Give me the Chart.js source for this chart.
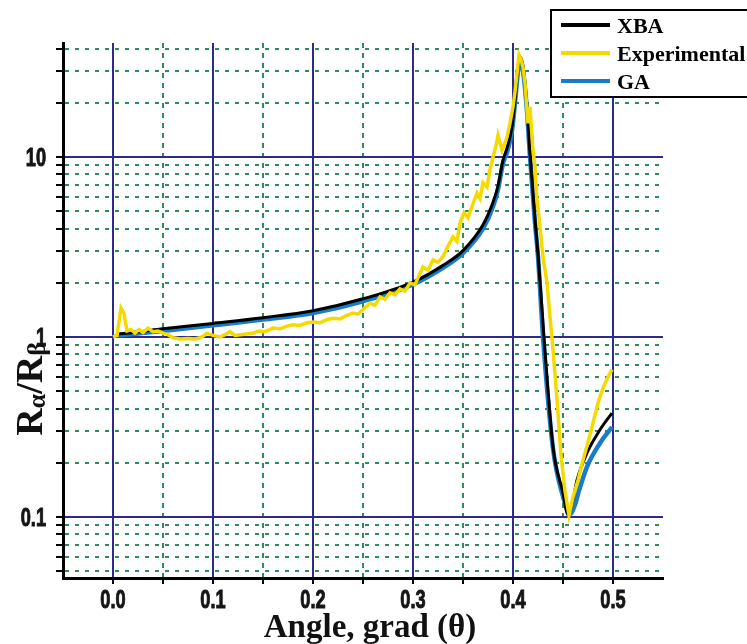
<!DOCTYPE html>
<html>
<head>
<meta charset="utf-8">
<script src="https://cdn.jsdelivr.net/npm/chart.js@4.4.0/dist/chart.umd.min.js"></script>
<style>
html,body{margin:0;padding:0;background:#ffffff;}
#wrap{width:747px;height:644px;position:relative;}
canvas{display:block;}
</style>
</head>
<body>
<div id="wrap"><canvas id="c" width="747" height="644"></canvas></div>
<script>
// ---------------- DATA ----------------
const seriesNames = ['XBA', 'Experimental', 'GA'];

const xTickValues = [0, 0.05, 0.1, 0.15, 0.2, 0.25, 0.3, 0.35, 0.4, 0.45, 0.5];
const xTickLabels = ['0.0', '', '0.1', '', '0.2', '', '0.3', '', '0.4', '', '0.5'];

const yTickValues = [0.05, 0.06, 0.07, 0.08, 0.09, 0.1, 0.2, 0.3, 0.4, 0.5, 0.6, 0.7, 0.8, 0.9,
                     1, 2, 3, 4, 5, 6, 7, 8, 9, 10, 20, 30, 40];
const yTickLabels = ['', '', '', '', '', '0.1', '', '', '', '', '', '', '', '',
                     '1', '', '', '', '', '', '', '', '', '10', '', '', ''];

const xbaAngle = [0.005, 0.02, 0.05, 0.1, 0.15, 0.2, 0.25, 0.3, 0.33, 0.35, 0.37, 0.38, 0.385, 0.39, 0.394,
                  0.399, 0.402, 0.405, 0.407, 0.41, 0.414, 0.417, 0.422, 0.425, 0.431, 0.44, 0.45, 0.455,
                  0.46, 0.464, 0.474, 0.487, 0.499];
const xbaRatio = [1.04, 1.06, 1.11, 1.19, 1.28, 1.40, 1.63, 2.02, 2.5, 3.02, 4.2, 5.6, 6.9, 9.6, 11.2,
                  14.7, 20.7, 31.6, 36, 32, 19, 10.5, 4.5, 2.9, 1.0, 0.245, 0.136, 0.103,
                  0.125, 0.16, 0.227, 0.305, 0.378];

const gaAngle = [0.005, 0.02, 0.05, 0.1, 0.15, 0.2, 0.25, 0.3, 0.33, 0.35, 0.37, 0.38, 0.385, 0.39, 0.394,
                 0.399, 0.402, 0.405, 0.407, 0.41, 0.414, 0.417, 0.422, 0.425, 0.43, 0.44, 0.45, 0.457,
                 0.462, 0.466, 0.474, 0.487, 0.499];
const gaRatio = [1.02, 1.04, 1.08, 1.16, 1.25, 1.36, 1.58, 1.96, 2.42, 2.92, 4.0, 5.3, 6.6, 9.2, 10.6,
                 14, 20, 30, 34, 30, 18, 10, 4.3, 2.8, 1.0, 0.24, 0.13, 0.104,
                 0.117, 0.14, 0.19, 0.257, 0.316];

const expAngle = [0.0, 0.004, 0.008, 0.011, 0.014, 0.018, 0.022, 0.026, 0.03, 0.035, 0.04, 0.045, 0.05, 0.055,
                  0.06, 0.067, 0.075, 0.082, 0.087, 0.091, 0.094, 0.1, 0.107, 0.112, 0.117, 0.122, 0.127,
                  0.133, 0.14, 0.146, 0.152, 0.16, 0.167, 0.174, 0.18, 0.187, 0.194, 0.2, 0.207, 0.214,
                  0.22, 0.227, 0.234, 0.24, 0.245, 0.25, 0.257, 0.262, 0.267, 0.272, 0.277, 0.282, 0.287,
                  0.292, 0.297, 0.302, 0.306, 0.31, 0.315, 0.32, 0.325, 0.33, 0.335, 0.34, 0.344, 0.347,
                  0.351, 0.355, 0.36, 0.364, 0.367, 0.37, 0.374, 0.377, 0.38, 0.383, 0.385, 0.389, 0.392,
                  0.394, 0.397, 0.4, 0.402, 0.404, 0.406, 0.408, 0.41, 0.412, 0.415, 0.417, 0.42, 0.422,
                  0.424, 0.427, 0.43, 0.434, 0.437, 0.44, 0.444, 0.448, 0.452, 0.456, 0.46, 0.465, 0.47,
                  0.475, 0.479, 0.485, 0.49, 0.495, 0.499];
const expRatio = [1.0, 1.02, 1.45, 1.35, 1.08, 1.1, 1.05, 1.1, 1.06, 1.12, 1.07, 1.08, 1.05, 1.03,
                  0.99, 0.975, 0.98, 0.975, 0.99, 1.02, 1.05, 1.02, 1.0, 1.03, 1.07, 1.02, 1.03,
                  1.04, 1.05, 1.08, 1.07, 1.12, 1.11, 1.15, 1.17, 1.16, 1.2, 1.21, 1.2, 1.25,
                  1.27, 1.26, 1.32, 1.36, 1.34, 1.42, 1.54, 1.5, 1.67, 1.62, 1.76, 1.72, 1.85,
                  1.8, 2.0, 1.95, 2.2, 2.45, 2.35, 2.68, 2.6, 2.8, 3.2, 3.6, 3.4, 4.3,
                  4.9, 4.6, 5.5, 6.3, 5.9, 7.2, 6.8, 8.5, 10, 11.5, 13.2, 10.9, 12,
                  12.9, 15.4, 19, 23, 29, 37, 35, 31.6, 25.8, 15.4, 19, 10.9, 8.8,
                  5.8, 4.1, 2.78, 2.0, 1.3, 0.85, 0.45, 0.22, 0.14, 0.102, 0.129, 0.16, 0.207,
                  0.26, 0.316, 0.43, 0.52, 0.6, 0.66];

const xTitle = 'Angle, grad (\u03B8)';

// ---------------- STYLE ----------------
const NAVY = '#2e2b88';
const GREEN = '#2f8c5c';
const sansBold = "bold 26px 'Liberation Sans','Arial',sans-serif";
const serif = "'Liberation Serif','Times New Roman',serif";
const SQUEEZE = 0.7;

function isMajorX(v) { return Math.abs(v * 10 - Math.round(v * 10)) < 1e-6; }
function isMajorY(v) { const l = Math.log10(v); return Math.abs(l - Math.round(l)) < 1e-6; }
function pts(xs, ys) { return xs.map((x, i) => ({x: x, y: ys[i]})); }

function narrowText(ctx, t, x, y) {
  ctx.save();
  ctx.translate(x, y);
  ctx.scale(SQUEEZE, 1);
  ctx.fillText(t, 0, 0);
  ctx.strokeText(t, 0, 0);
  ctx.restore();
}

// condensed tick labels, positioned through the chart's own scales
const tickLabelPlugin = {
  id: 'narrowTicks',
  afterDraw(chart) {
    const ctx = chart.ctx;
    const xs = chart.scales.x, ys = chart.scales.y;
    ctx.save();
    ctx.fillStyle = '#151515';
    ctx.strokeStyle = '#151515';
    ctx.lineWidth = 1;
    ctx.font = sansBold;
    ctx.textBaseline = 'alphabetic';
    xTickValues.forEach((v, i) => {
      const t = xTickLabels[i];
      if (!t) return;
      const px = xs.getPixelForValue(v);
      const w = ctx.measureText(t).width * SQUEEZE;
      narrowText(ctx, t, px - w / 2, xs.top + 30);
    });
    yTickValues.forEach((v, i) => {
      const t = yTickLabels[i];
      if (!t) return;
      const py = ys.getPixelForValue(v);
      const w = ctx.measureText(t).width * SQUEEZE;
      narrowText(ctx, t, ys.right - 17 - w, py + 9);
    });
    ctx.restore();
  }
};

const legendPlugin = {
  id: 'boxLegend',
  afterDraw(chart) {
    const ctx = chart.ctx;
    ctx.save();
    const left = 551, top = 10, bottom = 97;
    ctx.fillStyle = '#ffffff';
    ctx.fillRect(left, top, 220, bottom - top);
    ctx.strokeStyle = '#000';
    ctx.lineWidth = 2;
    ctx.strokeRect(left, top, 220, bottom - top);
    const rows = [25, 53, 81];
    chart.data.datasets.forEach((ds, i) => {
      const y = rows[i];
      ctx.strokeStyle = ds.borderColor;
      ctx.lineWidth = 4;
      ctx.setLineDash([]);
      ctx.beginPath();
      ctx.moveTo(561, y);
      ctx.lineTo(610, y);
      ctx.stroke();
      ctx.fillStyle = '#000';
      ctx.font = 'bold 22px ' + serif;
      ctx.textBaseline = 'middle';
      ctx.textAlign = 'left';
      ctx.fillText(ds.label, 617, y + 2);
    });
    ctx.restore();
  }
};

const titlePlugin = {
  id: 'axisTitles',
  afterDraw(chart) {
    const ctx = chart.ctx;
    const ca = chart.chartArea;
    ctx.save();
    ctx.fillStyle = '#111';
    ctx.font = 'bold 33px ' + serif;
    ctx.textAlign = 'center';
    ctx.textBaseline = 'alphabetic';
    ctx.fillText(xTitle, (ca.left + ca.right) / 2 + 7, 637);

    // y title: R_alpha / R_beta
    const parts = [['R', 38, 0], ['\u03B1', 26, 3], ['/R', 38, 0], ['\u03B2', 26, 3]];
    let total = 0;
    parts.forEach(p => { ctx.font = 'bold ' + p[1] + 'px ' + serif; total += ctx.measureText(p[0]).width; });
    ctx.translate(42, 389);
    ctx.rotate(-Math.PI / 2);
    ctx.textAlign = 'left';
    let x = -total / 2;
    parts.forEach(p => {
      ctx.font = 'bold ' + p[1] + 'px ' + serif;
      ctx.fillText(p[0], x, p[2]);
      x += ctx.measureText(p[0]).width;
    });
    ctx.restore();
  }
};

new Chart(document.getElementById('c'), {
  type: 'line',
  data: {
    datasets: [
      {label: seriesNames[0], data: pts(xbaAngle, xbaRatio), borderColor: '#000000', borderWidth: 3,
       pointRadius: 0, cubicInterpolationMode: 'monotone', order: 1},
      {label: seriesNames[1], data: pts(expAngle, expRatio), borderColor: '#f5da00', borderWidth: 3.5,
       pointRadius: 0, tension: 0, order: 0},
      {label: seriesNames[2], data: pts(gaAngle, gaRatio), borderColor: '#1a7cc9', borderWidth: 4.5,
       pointRadius: 0, cubicInterpolationMode: 'monotone', order: 2}
    ]
  },
  options: {
    responsive: false,
    animation: false,
    devicePixelRatio: 1,
    layout: {padding: {left: 0, top: 43, right: 84, bottom: 0}},
    plugins: {legend: {display: false}, tooltip: {enabled: false}},
    scales: {
      x: {
        type: 'linear', position: 'bottom', min: -0.05, max: 0.55,
        afterBuildTicks: s => { s.ticks = xTickValues.map(v => ({value: v})); },
        afterFit: s => { s.height = 66; },
        ticks: {display: false, autoSkip: false},
        grid: {
          color: c => (c.tick && isMajorX(c.tick.value)) ? NAVY : GREEN,
          lineWidth: 2, tickColor: '#000', tickLength: 6, tickWidth: 2
        },
        border: {
          display: true, color: '#000', width: 3,
          dash: c => (c.tick && !isMajorX(c.tick.value)) ? [5, 5] : []
        }
      },
      y: {
        type: 'logarithmic', position: 'left', min: 0.0458, max: 43,
        afterBuildTicks: s => { s.ticks = yTickValues.map(v => ({value: v})); },
        afterFit: s => { s.width = 63; },
        ticks: {display: false, autoSkip: false},
        grid: {
          color: c => (c.tick && isMajorY(c.tick.value)) ? NAVY : GREEN,
          lineWidth: 2, tickColor: '#000', tickLength: 7, tickWidth: 2
        },
        border: {
          display: true, color: '#000', width: 3,
          dash: c => (c.tick && !isMajorY(c.tick.value)) ? [4, 6] : []
        }
      }
    }
  },
  plugins: [titlePlugin, tickLabelPlugin, legendPlugin]
});
</script>
</body>
</html>
